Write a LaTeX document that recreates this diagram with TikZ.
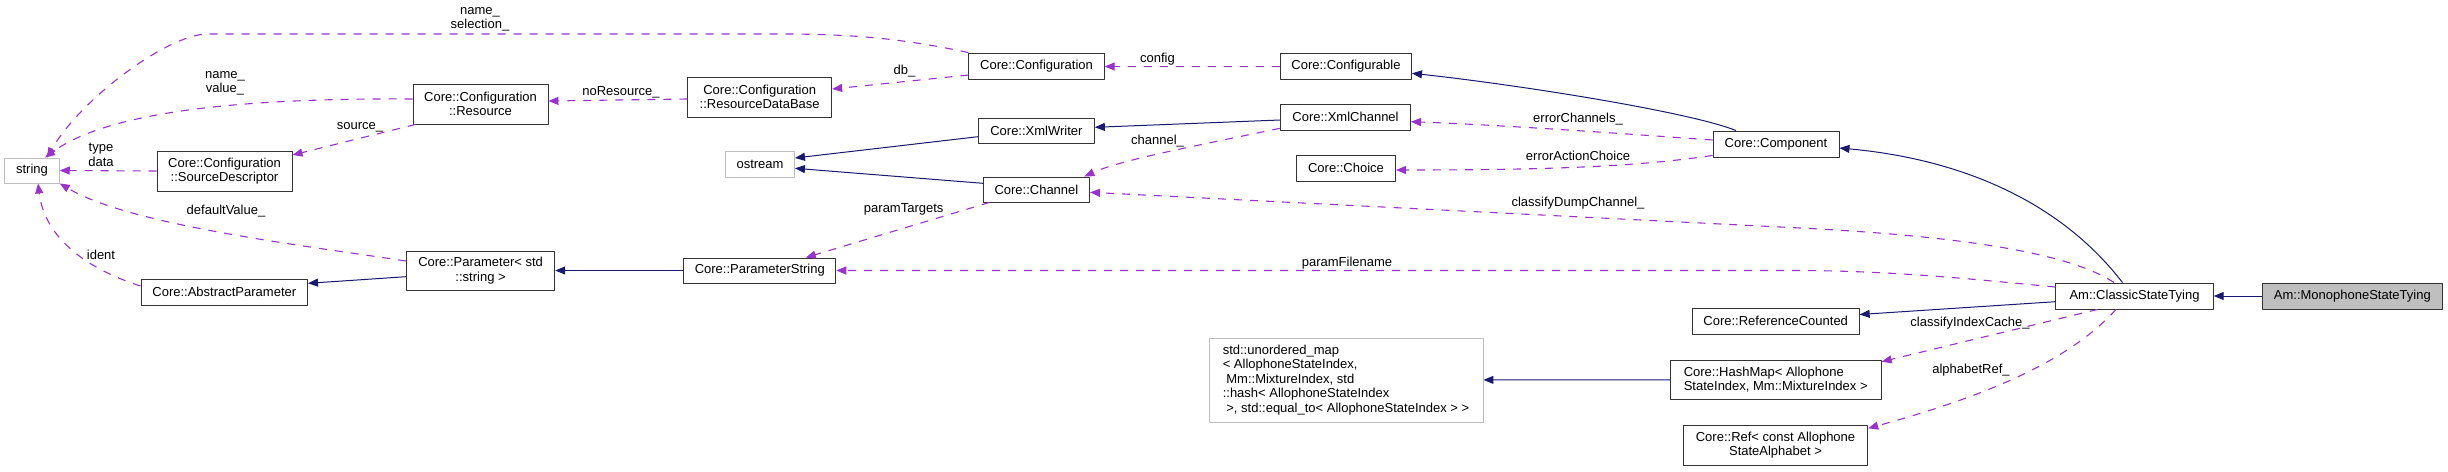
\documentclass[tikz,border=0pt]{standalone}
\usepackage{fontspec}
\setmainfont{Liberation Sans}
\usetikzlibrary{arrows.meta}
\definecolor{inhblue}{RGB}{25,25,112}
\definecolor{usepurple}{RGB}{154,50,205}
\definecolor{extgray}{RGB}{191,191,191}
\begin{document}
\begin{tikzpicture}[x=1pt, y=-1pt, font=\fontsize{13}{14.5}\selectfont, line join=round,
	cls/.style={draw=black!80, line width=0.9pt, fill=white, inner sep=0pt, align=center},
	ext/.style={cls, draw=extgray},
	inh/.style={draw=inhblue, line width=1pt, -{Triangle[length=10pt,width=8pt]}},
	use/.style={draw=usepurple, line width=1.1pt, dash pattern=on 8pt off 8pt, -{Triangle[length=10pt,width=8pt]}},
	lbl/.style={inner sep=0pt, align=center}]
	\useasboundingbox (0,0) rectangle (2448,471);
	% classes
	\node[ext, minimum width=54.6pt, minimum height=25pt] (string) at (32,170.5) {string};
	\node[cls, minimum width=135pt, minimum height=40pt] (res) at (480.5,104) {Core::Configuration\\::Resource};
	\node[cls, minimum width=135pt, minimum height=40pt] (srcdesc) at (224.5,171) {Core::Configuration\\::SourceDescriptor};
	\node[cls, minimum width=166.6pt, minimum height=26pt] (absparam) at (224.3,292) {Core::AbstractParameter};
	\node[cls, minimum width=148.3pt, minimum height=39pt] (param) at (480.6,270.5) {Core::Parameter< std\\::string >};
	\node[cls, minimum width=135.3pt, minimum height=26pt] (conf) at (1036.5,66) {Core::Configuration};
	\node[cls, minimum width=144pt, minimum height=40pt] (rdb) at (759.7,97) {Core::Configuration\\::ResourceDataBase};
	\node[cls, minimum width=116pt, minimum height=25pt] (xmlw) at (1036.4,130.5) {Core::XmlWriter};
	\node[ext, minimum width=69pt, minimum height=26pt] (ostream) at (760,164) {ostream};
	\node[cls, minimum width=106.3pt, minimum height=25pt] (chan) at (1036.4,189.5) {Core::Channel};
	\node[cls, minimum width=152pt, minimum height=25pt] (pstr) at (759.8,270.5) {Core::ParameterString};
	\node[cls, minimum width=131pt, minimum height=26pt] (cfgable) at (1346,66) {Core::Configurable};
	\node[cls, minimum width=130pt, minimum height=26pt] (xmlch) at (1345.5,117) {Core::XmlChannel};
	\node[cls, minimum width=99pt, minimum height=26pt] (choice) at (1346,168) {Core::Choice};
	\node[cls, minimum width=126pt, minimum height=26pt] (comp) at (1776,144) {Core::Component};
	\node[ext, minimum width=274pt, minimum height=84pt, align=left] (umap) at (1346,380)
		{std::unordered\_map\\< AllophoneStateIndex,\\\ Mm::MixtureIndex, std\\::hash< AllophoneStateIndex\\\ >, std::equal\_to< AllophoneStateIndex > >};
	\node[cls, minimum width=167pt, minimum height=26pt] (refc) at (1775.7,321) {Core::ReferenceCounted};
	\node[cls, minimum width=211pt, minimum height=39.5pt, align=left] (hmap) at (1775.7,379.7) {Core::HashMap< Allophone\\StateIndex, Mm::MixtureIndex >};
	\node[cls, minimum width=184.4pt, minimum height=40pt] (ref) at (1775.5,445.3) {Core::Ref< const Allophone\\StateAlphabet >};
	\node[cls, minimum width=157.5pt, minimum height=26pt] (cst) at (2134.5,296) {Am::ClassicStateTying};
	\node[cls, minimum width=180.6pt, minimum height=26pt, fill=extgray] (mono) at (2352.3,296) {Am::MonophoneStateTying};
	% inheritance
	\draw[inh] (mono) -- (cst);
	\draw[inh] ([xshift=-12pt]cst.north) .. controls (2055,195) and (1950,158) .. ([yshift=-4pt]comp.east);
	\draw[inh] ([yshift=-5.7pt]cst.west) -- ([yshift=6.5pt]refc.east);
	\draw[inh] ([xshift=-40pt]comp.north) .. controls (1690,112) and (1520,85) .. ([yshift=-7.3pt]cfgable.east);
	\draw[inh] ([yshift=-3pt]xmlch.west) -- ([yshift=3.2pt]xmlw.east);
	\draw[inh] ([yshift=-6.2pt]xmlw.west) -- ([yshift=6pt]ostream.east);
	\draw[inh] ([yshift=6.2pt]chan.west) -- ([yshift=-4.3pt]ostream.east);
	\draw[inh] (hmap) -- (umap);
	\draw[inh] (pstr) -- (param);
	\draw[inh] ([yshift=-6.2pt]param.west) -- ([yshift=8.7pt]absparam.east);
	% usage
	\draw[use] (conf.north west) .. controls (900,38) and (850,34) .. (780,34) -- (206,34)
		.. controls (165,36) and (80,100) .. ([xshift=15pt]string.north);
	\draw[use] ([yshift=5pt]res.west) .. controls (250,98) and (110,110) .. ([xshift=13pt]string.north);
	\draw[use] (srcdesc.west) -- (string.east);
	\draw[use] ([yshift=9.5pt]param.west) .. controls (300,245) and (130,225) .. (string.south east);
	\draw[use] ([yshift=6pt]absparam.west) .. controls (90,270) and (45,240) .. ([xshift=6pt]string.south);
	\draw[use] ([xshift=-65pt]res.south) -- ([yshift=16pt]srcdesc.east);
	\draw[use] ([yshift=-2pt]rdb.west) -- ([yshift=3pt]res.east);
	\draw[use] ([yshift=-9pt]conf.west) -- ([yshift=8pt]rdb.east);
	\draw[use] ([yshift=-0.5pt]cfgable.west) -- ([yshift=-0.5pt]conf.east);
	\draw[use] ([yshift=-11.3pt]xmlch.west) .. controls (1200,145) and (1120,160) .. ([xshift=48pt]chan.north);
	\draw[use] ([xshift=-47pt]chan.south) -- ([xshift=46pt]pstr.north);
	\draw[use] ([yshift=4pt]comp.west) .. controls (1600,132) and (1500,125) .. ([yshift=-4.7pt]xmlch.east);
	\draw[use] ([yshift=-11.5pt]comp.west) .. controls (1640,166) and (1560,170) .. ([yshift=-2pt]choice.east);
	\draw[use] ([xshift=-20.5pt]cst.north) .. controls (2080,260) and (2000,238) .. (1800,228) -- ([yshift=-2.8pt]chan.east);
	\draw[use] ([yshift=9pt]cst.west) .. controls (1980,280) and (1900,271) .. (1800,270.5) -- (pstr.east);
	\draw[use] ([xshift=-37pt]cst.south) -- ([yshift=18pt]hmap.east);
	\draw[use] ([xshift=-18.5pt]cst.south) .. controls (2070,360) and (1990,395) .. ([yshift=17pt]ref.east);
	% labels
	\node[lbl] (lselection) at (480,19.5) {name\_\\selection\_};
	\node[lbl] (lvalue) at (225,83.5) {name\_\\value\_};
	\node[lbl] (ltype) at (101,155) {type\\data};
	\node[lbl] (ldefault) at (226,211) {defaultValue\_};
	\node[lbl] (lident) at (101,255) {ident};
	\node[lbl] (lsource) at (360,127) {source\_};
	\node[lbl] (lnores) at (621,92) {noResource\_};
	\node[lbl] (ldb) at (904.5,71) {db\_};
	\node[lbl] (lconfig) at (1157.5,59) {config};
	\node[lbl] (lchannel) at (1157.5,141) {channel\_};
	\node[lbl] (lparamt) at (903.7,209) {paramTargets};
	\node[lbl] (lerrch) at (1578,119) {errorChannels\_};
	\node[lbl] (lerrac) at (1578,156) {errorActionChoice};
	\node[lbl] (ldump) at (1578,203) {classifyDumpChannel\_};
	\node[lbl] (lfile) at (1347,263) {paramFilename};
	\node[lbl] (lcache) at (1970,323) {classifyIndexCache\_};
	\node[lbl] (lalpha) at (1971,370) {alphabetRef\_};
\end{tikzpicture}
\end{document}
